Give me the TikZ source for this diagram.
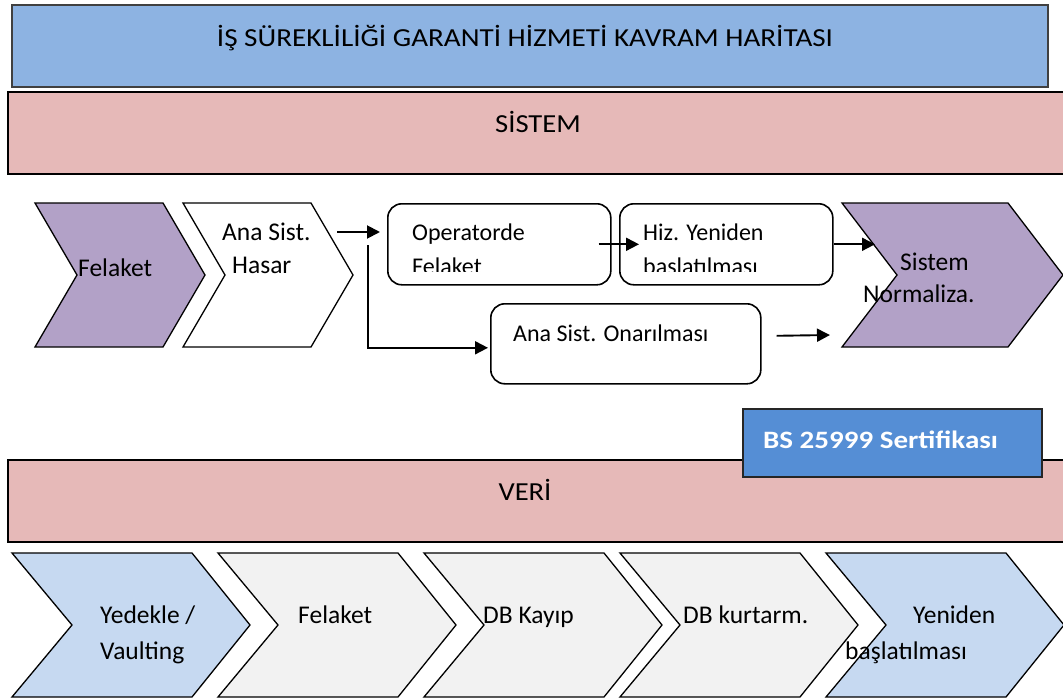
\documentclass[tikz,border=0pt]{standalone}
\usepackage{fontspec}
\setmainfont{Carlito}
\usepackage{tikz}
\usetikzlibrary{arrows.meta, calc}
\definecolor{titleBlue}{HTML}{8DB3E2}
\definecolor{bandPink}{HTML}{E6B9B8}
\definecolor{chevPurple}{HTML}{B2A1C7}
\definecolor{chevBlue}{HTML}{C6D9F1}
\definecolor{chevGray}{HTML}{F2F2F2}
\definecolor{certBlue}{HTML}{558ED5}
\tikzset{
  band/.style={draw=black, line width=2.2pt},
  chev/.style={draw=black, line width=1.3pt},
  rbox/.style={draw=black, line width=1.6pt, rounded corners=14pt, inner sep=0pt, anchor=north west},
  flow/.style={-{Triangle[length=13pt,width=13pt]}, line width=1.9pt},
  bandtxt/.style={anchor=base, inner sep=0pt, font=\fontsize{26}{30}\selectfont},
  chevtxt/.style={anchor=base west, inner sep=0pt, font=\fontsize{25.5}{30}\selectfont},
  boxtxt/.style={anchor=base west, inner sep=0pt, font=\fontsize{24}{28}\selectfont},
}

\begin{document}
\begin{tikzpicture}[x=1pt, y=-1pt]
  \useasboundingbox (0,0) rectangle (1063,698);

  % title and bands
  \filldraw[fill=titleBlue, draw=black!75, line width=1.5pt] (12,5) rectangle (1048,87);
  \node[bandtxt] (title) at (525,47) {\scalebox{1.12}[1]{İŞ SÜREKLİLİĞİ GARANTİ HİZMETİ KAVRAM HARİTASI}};
  \filldraw[band, fill=bandPink] (8,92) rectangle (1070,174);
  \node[bandtxt] (sistem) at (538,133) {\scalebox{1.1}[1]{SİSTEM}};

  % system row
  \filldraw[chev, fill=chevPurple] (35,203) -- (163,203) -- (205,275) -- (163,347) -- (35,347) -- (77,275) -- cycle;
  \node[chevtxt] (felaketA) at (78,276) {Felaket};
  \filldraw[chev, fill=white] (183,203) -- (311,203) -- (353,275) -- (311,347) -- (183,347) -- (225,275) -- cycle;
  \node[chevtxt] (hasarA) at (222,240) {Ana Sist.};
  \node[chevtxt] (hasarB) at (232,273) {Hasar};
  \filldraw[chev, fill=chevPurple] (842,203) -- (1008,203) -- (1063,275) -- (1008,347) -- (842,347) -- (897,275) -- cycle;
  \node[chevtxt] (normA) at (900,270) {Sistem};
  \node[chevtxt] (normB) at (863,302) {Normaliza.};

  \node[rbox, minimum width=223pt, minimum height=81pt] (oper) at (387,203) {};
  \node[rbox, minimum width=213pt, minimum height=81pt] (hiz) at (619,203) {};
  \node[rbox, minimum width=270pt, minimum height=80pt] (onar) at (490,303) {};
  \begin{scope}
    \clip (387,203) rectangle (832,271);
    \node[boxtxt] (operA) at (412,240) {Operatorde};
    \node[boxtxt] (operB) at (412,274) {Felaket};
    \node[boxtxt] (hizA) at (643,240) {Hiz. Yeniden};
    \node[boxtxt] (hizB) at (643,274) {baslatılması};
  \end{scope}
  \node[boxtxt] (onarA) at (513,341) {Ana Sist. Onarılması};

  \coordinate (hasarOut) at (337,232);
  \coordinate (split) at (368,245);
  \coordinate (normIn) at (875,245);
  \coordinate (normIn2) at (830,335);
  \draw[flow, shorten >=7pt] (hasarOut) -- (hasarOut -| oper.west);
  \draw[flow, shorten >=2pt] (split) |- ([yshift=-4pt]onar.west);
  \draw[flow] ([xshift=-13pt]oper.east) -- ([xshift=20pt]hiz.west);
  \draw[flow] (hiz.east) -- (hiz.east -| normIn);
  \draw[flow] ([shift={(15pt,8pt)}]onar.east) -- (normIn2);

  % data band
  \filldraw[band, fill=bandPink] (8,460) rectangle (1070,542);
  \node[bandtxt] (veri) at (525,500) {\scalebox{1.1}[1]{VERİ}};
  \filldraw[fill=certBlue, draw=black!85, line width=1.6pt] (743,409) rectangle (1042,477);
  \node[bandtxt, anchor=base west, text=white, font=\fontsize{25}{30}\selectfont\bfseries] (cert) at (763,448) {\scalebox{1.16}[1]{BS 25999 Sertifikası}};

  % data row
  \filldraw[chev, fill=chevBlue] (12,553) -- (192,553) -- (250,625) -- (192,697) -- (12,697) -- (72,625) -- cycle;
  \node[chevtxt] (yedekA) at (100,623) {Yedekle /};
  \node[chevtxt] (yedekB) at (100,659) {Vaulting};
  \filldraw[chev, fill=chevGray] (218,553) -- (398,553) -- (456,625) -- (398,697) -- (218,697) -- (278,625) -- cycle;
  \node[chevtxt] (felaketB) at (298,623) {Felaket};
  \filldraw[chev, fill=chevGray] (424,553) -- (604,553) -- (662,625) -- (604,697) -- (424,697) -- (484,625) -- cycle;
  \node[chevtxt] (kayip) at (483,623) {DB Kayıp};
  \filldraw[chev, fill=chevGray] (620,553) -- (800,553) -- (858,625) -- (800,697) -- (620,697) -- (680,625) -- cycle;
  \node[chevtxt] (kurtar) at (683,623) {DB kurtarm.};
  \filldraw[chev, fill=chevBlue] (826,553) -- (1006,553) -- (1064,625) -- (1006,697) -- (826,697) -- (886,625) -- cycle;
  \node[chevtxt] (yenidenA) at (913,623) {Yeniden};
  \node[chevtxt] (yenidenB) at (845,659) {başlatılması};
\end{tikzpicture}
\end{document}
